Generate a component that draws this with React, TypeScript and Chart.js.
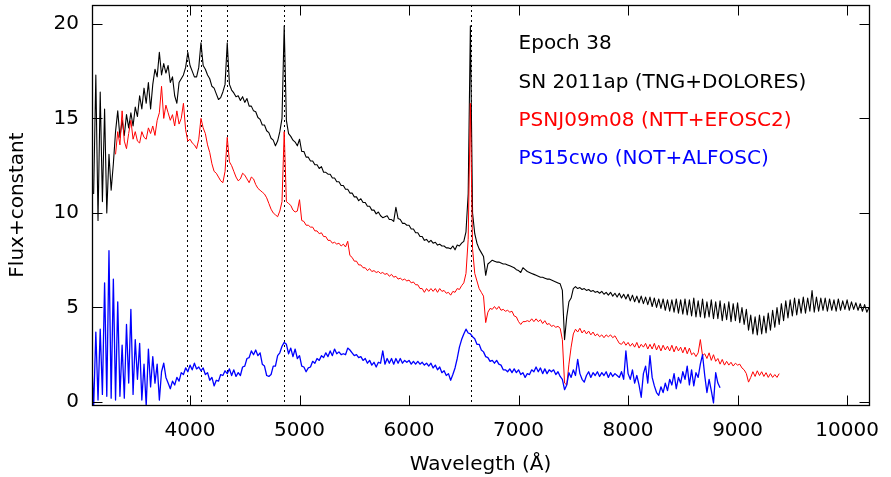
import React, { useEffect, useRef } from "react";
import { Chart, registerables } from "chart.js";

Chart.register(...registerables);

// Wavelength grid step (Å) shared by all spectra
const STEP = 20;

// SN 2011ap (TNG+DOLORES), black, starts at 3120 Å
const blackStart = 3120;
const blackFlux = [
  11.0, 17.3, 9.6, 16.4, 10.6, 15.5, 10.0, 13.1, 11.2, 12.6, // 3120-3300
  14.3, 15.4, 14.0, 14.9, 14.1, 15.2, 14.5, 15.3, 14.6, 15.6, // 3320-3500
  15.1, 16.2, 15.5, 16.6, 15.8, 16.9, 15.5, 16.8, 17.6, 17.2, // 3520-3700
  18.5, 17.3, 17.9, 17.4, 17.8, 16.9, 17.2, 16.2, 15.8, 16.9, // 3720-3900
  17.1, 17.3, 17.7, 18.5, 17.8, 17.5, 17.2, 17.2, 17.7, 19.0, // 3920-4100
  17.8, 17.6, 17.3, 17.1, 16.7, 16.6, 16.3, 16.0, 16.1, 16.4, // 4120-4300
  16.8, 19.0, 16.8, 16.5, 16.35, 16.15, 16.2, 15.95, 16.15, 15.85, // 4320-4500
  16.05, 15.65, 15.65, 15.4, 15.35, 15.05, 14.95, 14.65, 14.65, 14.35, // 4520-4700
  14.25, 13.95, 13.85, 13.55, 13.8, 14.3, 15.0, 19.9, 14.9, 14.2, // 4720-4900
  14.05, 13.85, 13.75, 13.55, 13.9, 13.25, 13.25, 12.95, 12.95, 12.75, // 4920-5100
  12.75, 12.55, 12.55, 12.35, 12.45, 12.15, 12.15, 12.05, 12.05, 11.85, // 5120-5300
  11.85, 11.65, 11.65, 11.45, 11.45, 11.25, 11.25, 11.05, 11.05, 10.85, // 5320-5500
  10.85, 10.65, 10.75, 10.55, 10.55, 10.35, 10.35, 10.15, 10.15, 9.95, // 5520-5700
  10.05, 9.85, 9.75, 9.8, 9.85, 9.65, 9.65, 9.55, 10.3, 9.7, // 5720-5900
  9.65, 9.45, 9.45, 9.35, 9.35, 9.15, 9.15, 8.95, 8.95, 8.75, // 5920-6100
  8.75, 8.55, 8.6, 8.45, 8.55, 8.4, 8.45, 8.3, 8.35, 8.25, // 6120-6300
  8.25, 8.15, 8.15, 8.1, 8.25, 8.05, 8.3, 8.25, 8.4, 8.5, // 6320-6500
  9.0, 11.0, 19.9, 10.0, 8.9, 8.4, 8.1, 7.9, 7.7, 6.7, // 6520-6700
  7.3, 7.4, 7.5, 7.45, 7.4, 7.4, 7.35, 7.3, 7.3, 7.25, // 6720-6900
  7.2, 7.15, 7.1, 7.0, 6.95, 6.85, 7.1, 7.0, 6.9, 6.85, // 6920-7100
  6.8, 6.75, 6.7, 6.65, 6.6, 6.6, 6.55, 6.5, 6.5, 6.45, // 7120-7300
  6.4, 6.35, 6.3, 6.25, 5.9, 3.3, 4.5, 5.3, 5.5, 6.0, // 7320-7500
  6.1, 6.0, 6.05, 5.95, 6.0, 5.9, 5.95, 5.85, 5.9, 5.8, // 7520-7700
  5.85, 5.75, 5.85, 5.7, 5.8, 5.65, 5.8, 5.6, 5.75, 5.55, // 7720-7900
  5.75, 5.5, 5.7, 5.45, 5.7, 5.35, 5.65, 5.3, 5.6, 5.25, // 7920-8100
  5.6, 5.2, 5.55, 5.15, 5.55, 5.05, 5.5, 5.0, 5.45, 4.95, // 8120-8300
  5.45, 4.85, 5.4, 4.8, 5.4, 4.75, 5.45, 4.7, 5.4, 4.65, // 8320-8500
  5.45, 4.6, 5.4, 4.55, 5.5, 4.5, 5.35, 4.5, 5.45, 4.45, // 8520-8700
  5.3, 4.5, 5.4, 4.4, 5.3, 4.4, 5.35, 4.3, 5.2, 4.35, // 8720-8900
  5.3, 4.25, 5.2, 4.3, 5.25, 4.2, 5.0, 4.1, 4.9, 3.8, // 8920-9100
  4.6, 3.6, 4.5, 3.55, 4.6, 3.6, 4.55, 3.65, 4.7, 3.8, // 9120-9300
  4.85, 3.95, 5.0, 4.1, 5.2, 4.3, 5.35, 4.45, 5.4, 4.55, // 9320-9500
  5.5, 4.6, 5.45, 4.7, 5.55, 4.7, 5.5, 4.8, 5.9, 4.75, // 9520-9700
  5.55, 4.8, 5.5, 4.85, 5.5, 4.8, 5.45, 4.85, 5.4, 4.8, // 9720-9900
  5.45, 4.85, 5.35, 4.9, 5.4, 4.85, 5.3, 4.9, 5.25, 4.85, // 9920-10100
  5.2, 4.8, 5.15, 4.75, 5.0, // 10120-10200
];

// PSNJ09m08 (NTT+EFOSC2), red, starts at 3320 Å
const redStart = 3320;
const redFlux = [
  13.1, 14.3, 13.6, 15.4, 13.8, 13.4, 14.2, 14.9, 13.9, 14.3, // 3320-3500
  13.8, 13.7, 14.3, 14.0, 13.9, 14.5, 14.2, 14.6, 14.1, 14.9, // 3520-3700
  15.3, 16.7, 15.0, 15.7, 15.3, 14.9, 15.2, 14.6, 15.4, 14.7, // 3720-3900
  15.0, 15.8, 14.4, 13.8, 13.9, 13.7, 13.6, 13.4, 13.9, 15.0, // 3920-4100
  14.5, 14.2, 13.6, 13.2, 12.6, 12.2, 12.1, 11.9, 11.7, 11.6, // 4120-4300
  12.2, 14.0, 12.7, 12.5, 12.2, 11.9, 11.7, 11.8, 12.1, 12.0, // 4320-4500
  11.8, 11.6, 11.9, 11.8, 11.5, 11.3, 11.2, 11.1, 11.0, 10.8, // 4520-4700
  10.5, 10.2, 10.0, 9.9, 9.8, 10.1, 10.6, 14.3, 10.6, 10.5, // 4720-4900
  10.4, 10.15, 10.05, 10.1, 10.7, 9.6, 9.55, 9.35, 9.35, 9.25, // 4920-5100
  9.25, 9.05, 9.05, 8.9, 8.95, 8.75, 8.75, 8.55, 8.55, 8.4, // 5120-5300
  8.45, 8.35, 8.4, 8.25, 8.35, 8.2, 8.5, 7.75, 7.65, 7.45, // 5320-5500
  7.45, 7.25, 7.25, 7.1, 7.1, 6.95, 7.05, 6.9, 6.95, 6.85, // 5520-5700
  6.9, 6.8, 6.85, 6.75, 6.8, 6.65, 6.75, 6.6, 6.65, 6.5, // 5720-5900
  6.55, 6.45, 6.5, 6.4, 6.45, 6.3, 6.35, 6.2, 6.2, 6.0, // 5920-6100
  6.0, 5.8, 6.0, 5.85, 6.0, 5.85, 6.0, 5.8, 6.0, 5.85, // 6120-6300
  5.9, 5.75, 5.8, 5.65, 5.85, 5.8, 6.0, 5.95, 6.15, 6.3, // 6320-6500
  6.8, 8.6, 15.8, 8.1, 6.8, 6.4, 6.0, 5.8, 5.6, 4.2, // 6520-6700
  4.75, 4.95, 4.9, 5.05, 4.9, 5.05, 4.85, 4.9, 4.8, 4.85, // 6720-6900
  4.75, 4.8, 4.55, 4.5, 4.25, 4.1, 4.25, 4.25, 4.3, 4.25, // 6920-7100
  4.4, 4.25, 4.4, 4.25, 4.35, 4.15, 4.3, 4.1, 4.15, 4.0, // 7120-7300
  4.05, 3.95, 4.0, 3.9, 3.3, 1.0, 0.9, 2.0, 2.9, 3.6, // 7320-7500
  3.85, 3.7, 3.9, 3.65, 3.8, 3.6, 3.75, 3.55, 3.7, 3.5, // 7520-7700
  3.6, 3.45, 3.55, 3.4, 3.55, 3.45, 3.55, 3.4, 3.5, 3.3, // 7720-7900
  3.1, 3.05, 3.2, 3.0, 3.15, 2.95, 3.1, 2.9, 3.15, 2.85, // 7920-8100
  3.05, 2.9, 3.1, 2.8, 3.05, 2.8, 3.1, 2.75, 3.0, 2.7, // 8120-8300
  3.0, 2.75, 2.95, 2.7, 3.0, 2.65, 2.95, 2.7, 2.9, 2.6, // 8320-8500
  2.9, 2.55, 2.85, 2.5, 2.6, 2.4, 2.6, 3.3, 2.45, 2.55, // 8520-8700
  2.3, 2.6, 2.2, 2.5, 2.15, 2.3, 2.0, 2.25, 1.95, 2.15, // 8720-8900
  1.95, 2.1, 1.9, 2.05, 1.95, 2.0, 1.8, 1.7, 1.5, 1.05, // 8920-9100
  1.3, 1.6, 1.35, 1.65, 1.4, 1.6, 1.35, 1.55, 1.3, 1.5, // 9120-9300
  1.3, 1.45, 1.3, 1.5, // 9320-9380
];

// PS15cwo (NOT+ALFOSC), blue, starts at 3100 Å
const blueStart = 3100;
const blueFlux = [
  2.6, -0.3, 3.7, 0.1, 3.85, 0.4, 6.3, 0.3, 8.0, 0.2, // 3100-3280
  6.5, 0.1, 5.3, 0.3, 3.0, 0.2, 4.1, 1.0, 4.9, 0.4, // 3300-3480
  3.3, 1.2, 3.1, 0.1, 2.0, -0.2, 2.8, 0.8, 2.4, 1.0, // 3500-3680
  2.0, 0.1, 1.6, 2.05, 1.3, 1.0, 0.7, 1.1, 0.9, 1.3, // 3700-3880
  1.1, 1.55, 1.45, 1.8, 1.6, 1.95, 1.7, 2.05, 1.75, 1.85, // 3900-4080
  1.65, 1.8, 1.45, 1.55, 1.15, 1.3, 0.85, 1.15, 1.1, 1.45, // 4100-4280
  1.4, 1.65, 1.5, 1.75, 1.4, 1.7, 1.35, 1.55, 1.4, 1.85, // 4300-4480
  1.9, 2.3, 2.35, 2.7, 2.5, 2.75, 2.45, 2.6, 2.0, 1.9, // 4500-4680
  1.4, 1.35, 1.45, 1.9, 1.9, 2.45, 2.6, 2.95, 3.15, 3.05, // 4700-4880
  2.55, 2.85, 2.4, 2.8, 2.3, 2.45, 1.9, 1.85, 1.6, 1.8, // 4900-5080
  1.85, 2.15, 2.05, 2.3, 2.2, 2.45, 2.35, 2.6, 2.4, 2.7, // 5100-5280
  2.45, 2.8, 2.55, 2.65, 2.5, 2.55, 2.5, 2.85, 2.75, 2.6, // 5300-5480
  2.45, 2.5, 2.35, 2.4, 2.2, 2.3, 2.05, 2.2, 1.95, 2.1, // 5500-5680
  1.85, 2.1, 2.05, 2.7, 2.0, 2.3, 2.05, 2.3, 2.0, 2.3, // 5700-5880
  2.05, 2.3, 2.05, 2.2, 2.1, 2.2, 2.0, 2.15, 2.0, 2.15, // 5900-6080
  2.0, 2.1, 1.95, 2.05, 1.9, 2.05, 1.8, 1.95, 1.7, 1.85, // 6100-6280
  1.55, 1.65, 1.4, 1.5, 1.15, 1.45, 1.8, 2.3, 2.9, 3.3, // 6300-6480
  3.6, 3.85, 3.65, 3.6, 3.45, 3.35, 3.05, 3.05, 2.75, 2.65, // 6500-6680
  2.4, 2.35, 2.15, 2.2, 2.05, 2.2, 2.0, 1.95, 1.7, 1.7, // 6700-6880
  1.6, 1.75, 1.55, 1.75, 1.55, 1.7, 1.45, 1.55, 1.3, 1.5, // 6900-7080
  1.45, 1.7, 1.6, 1.85, 1.6, 1.8, 1.5, 1.75, 1.5, 1.7, // 7100-7280
  1.6, 1.7, 1.45, 1.6, 1.35, 1.2, 0.65, 0.9, 1.55, 1.3, // 7300-7480
  1.7, 1.4, 2.25, 1.5, 1.2, 1.05, 1.4, 1.6, 1.3, 1.55, // 7500-7680
  1.4, 1.6, 1.35, 1.55, 1.4, 1.6, 1.3, 1.55, 1.35, 1.5, // 7700-7880
  1.4, 1.3, 1.6, 1.2, 2.7, 1.5, 1.2, 1.7, 1.0, 1.4, // 7900-8080
  0.9, 0.25, 1.5, 1.9, 1.0, 2.45, 1.3, 0.85, 0.5, 0.35, // 8100-8280
  0.8, 0.5, 1.0, 0.6, 1.2, 0.9, 1.5, 0.7, 1.3, 1.0, // 8300-8480
  1.6, 1.2, 1.9, 0.9, 1.7, 0.85, 1.55, 1.3, 2.0, 2.5, // 8500-8680
  1.4, 0.5, 1.2, 0.6, -0.05, 1.55, 1.0, 0.75, // 8700-8840
];

// Balmer line markers (Å)
const markerWaves = [3970, 4102, 4340, 4861, 6563];

// Axis settings
const xMin = 3105;
const xMax = 10200;
const yMin = -0.16;
const yMax = 21;
const xTickValues = [4000, 5000, 6000, 7000, 8000, 9000, 10000];
const yTickValues = [0, 5, 10, 15, 20];

// Annotation texts
const noteLabels = [
  "Epoch 38",
  "SN 2011ap (TNG+DOLORES)",
  "PSNJ09m08 (NTT+EFOSC2)",
  "PS15cwo (NOT+ALFOSC)",
];
const noteColors = ["#000000", "#000000", "#ff0000", "#0000ff"];

const FONT = "'DejaVu Sans', 'Liberation Sans', sans-serif";

function toPoints(start: number, flux: number[]) {
  return flux.map((y, i) => ({ x: start + i * STEP, y }));
}

const framePlugin = {
  id: "gnuplotFrame",
  beforeDatasetsDraw(chart: any) {
    const { ctx, chartArea, scales } = chart;
    const xs = scales.x;
    ctx.save();
    ctx.strokeStyle = "#000";
    ctx.lineWidth = 1;
    ctx.setLineDash([2, 3]);
    markerWaves.forEach((w) => {
      const px = Math.round(xs.getPixelForValue(w)) + 0.5;
      ctx.beginPath();
      ctx.moveTo(px, chartArea.top);
      ctx.lineTo(px, chartArea.bottom);
      ctx.stroke();
    });
    ctx.restore();
  },
  afterDraw(chart: any) {
    const { ctx, chartArea, scales } = chart;
    const xs = scales.x;
    const ys = scales.y;
    const L = chartArea.left + 0.5;
    const R = chartArea.right + 0.5;
    const T = chartArea.top + 0.5;
    const B = chartArea.bottom + 0.5;
    const tl = 10;
    ctx.save();
    ctx.strokeStyle = "#000";
    ctx.lineWidth = 1;
    ctx.setLineDash([]);
    ctx.beginPath();
    xs.ticks.forEach((t: any) => {
      const px = Math.round(xs.getPixelForValue(t.value)) + 0.5;
      ctx.moveTo(px, B);
      ctx.lineTo(px, B - tl);
      ctx.moveTo(px, T);
      ctx.lineTo(px, T + tl);
    });
    ys.ticks.forEach((t: any) => {
      const py = Math.round(ys.getPixelForValue(t.value)) + 0.5;
      ctx.moveTo(L, py);
      ctx.lineTo(L + tl, py);
      ctx.moveTo(R, py);
      ctx.lineTo(R - tl, py);
    });
    ctx.stroke();
    ctx.lineWidth = 1.3;
    ctx.strokeRect(L, T, R - L, B - T);
    // annotations
    ctx.font = "20px " + FONT;
    ctx.textAlign = "left";
    ctx.textBaseline = "alphabetic";
    const tx = xs.getPixelForValue(7000);
    const baseY = [18.67, 16.63, 14.6, 12.57];
    noteLabels.forEach((s, i) => {
      ctx.fillStyle = noteColors[i];
      ctx.fillText(s, tx, ys.getPixelForValue(baseY[i]));
    });
    ctx.restore();
  },
};

function noPad(s: any) {
  s.paddingTop = 0;
  s.paddingBottom = 0;
  s.paddingLeft = 0;
  s.paddingRight = 0;
}

export default function App() {
  const ref = useRef<HTMLCanvasElement | null>(null);
  useEffect(() => {
    document.body.style.margin = "0";
    if (!ref.current) return;
    Chart.defaults.font.family = FONT;
    Chart.defaults.font.size = 20;
    Chart.defaults.color = "#000";
    const chart = new Chart(ref.current, {
      type: "line",
      data: {
        datasets: [
          {
            label: "PS15cwo (NOT+ALFOSC)",
            data: toPoints(blueStart, blueFlux),
            borderColor: "#0000ff",
            borderWidth: 1.3,
            pointRadius: 0,
            borderJoinStyle: "round",
            clip: 0,
          },
          {
            label: "PSNJ09m08 (NTT+EFOSC2)",
            data: toPoints(redStart, redFlux),
            borderColor: "#ff0000",
            borderWidth: 1,
            pointRadius: 0,
            borderJoinStyle: "round",
            clip: 0,
          },
          {
            label: "SN 2011ap (TNG+DOLORES)",
            data: toPoints(blackStart, blackFlux),
            borderColor: "#000000",
            borderWidth: 1.1,
            pointRadius: 0,
            borderJoinStyle: "round",
            clip: 0,
          },
        ],
      },
      options: {
        animation: false,
        responsive: false,
        devicePixelRatio: 1,
        layout: { padding: { left: 0, right: 22, top: 5, bottom: 0 } },
        plugins: { legend: { display: false }, tooltip: { enabled: false } },
        scales: {
          x: {
            type: "linear",
            min: xMin,
            max: xMax,
            grid: { display: false, drawTicks: false },
            border: { display: false },
            afterBuildTicks: (s: any) => {
              s.ticks = xTickValues.map((v) => ({ value: v }));
            },
            ticks: {
              autoSkip: false,
              padding: 14,
              maxRotation: 0,
              minRotation: 0,
              callback: (v: any) => String(v),
            },
            title: {
              display: true,
              text: "Wavelegth (Å)",
              font: { size: 20 },
              padding: { top: 0, bottom: 0 },
            },
            afterFit: (s: any) => {
              s.height = 72;
              noPad(s);
            },
          },
          y: {
            type: "linear",
            min: yMin,
            max: yMax,
            grid: { display: false, drawTicks: false },
            border: { display: false },
            afterBuildTicks: (s: any) => {
              s.ticks = yTickValues.map((v) => ({ value: v }));
            },
            ticks: {
              autoSkip: false,
              padding: 13,
              callback: (v: any) => String(v),
            },
            title: {
              display: true,
              text: "Flux+constant",
              font: { size: 20 },
              padding: { top: 6, bottom: 0 },
            },
            afterFit: (s: any) => {
              s.width = 92;
              noPad(s);
            },
          },
        },
      },
      plugins: [framePlugin],
    });
    return () => chart.destroy();
  }, []);
  return (
    <div style={{ width: 891, height: 477, background: "#fff" }}>
      <canvas ref={ref} width={891} height={477} />
    </div>
  );
}
